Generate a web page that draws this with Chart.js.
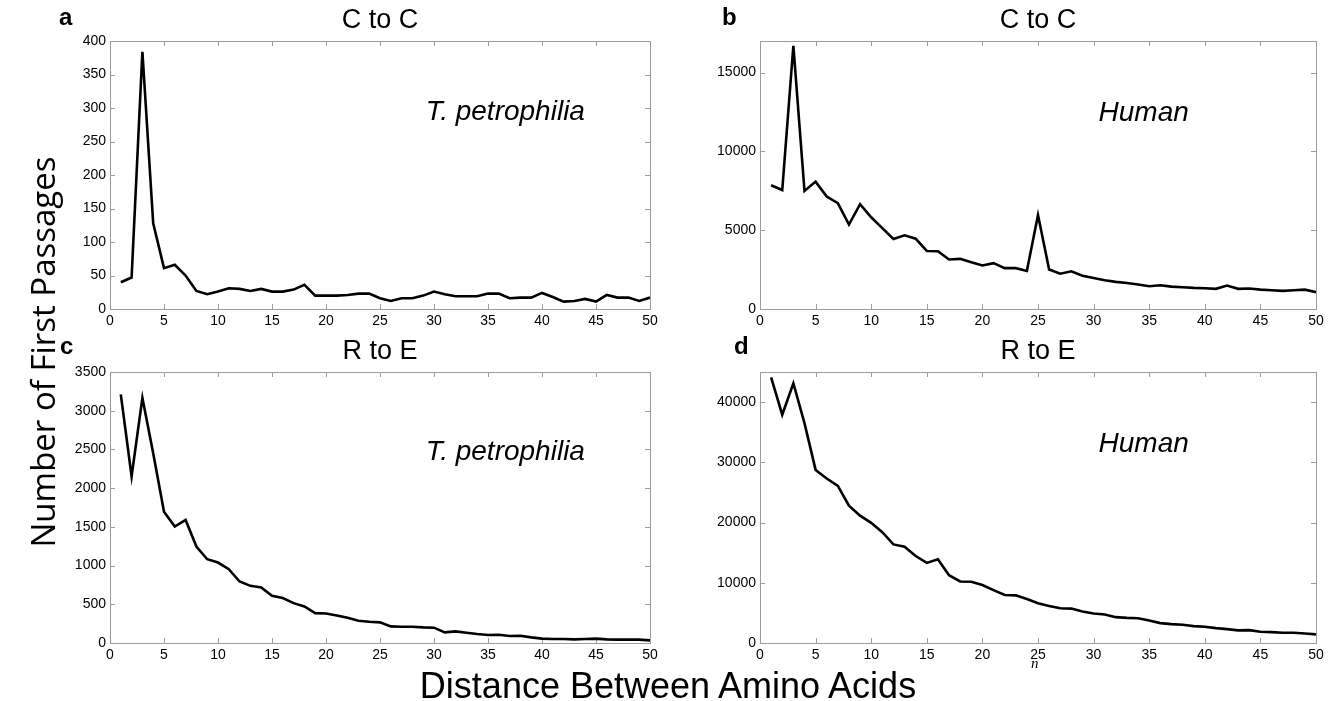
<!DOCTYPE html>
<html>
<head>
<meta charset="utf-8">
<script src="https://cdn.jsdelivr.net/npm/chart.js@4.4.1/dist/chart.umd.min.js"></script>
<style>
  body{margin:0;background:#fff;width:1334px;height:701px;overflow:hidden;position:relative;font-family:"Liberation Sans",Arial,sans-serif;color:#000}
  .panel{position:absolute}
  .letra{position:absolute;font-weight:bold;font-size:24px;line-height:1}
  #ejeY{position:absolute;left:42px;top:352px;transform:translate(-50%,-50%) rotate(-90deg);font-family:"Open Sans",sans-serif;font-size:33px;white-space:nowrap}
  #ejeX{position:absolute;left:668px;top:686px;transform:translate(-50%,-50%);font-size:36px;white-space:nowrap}
  #ene{position:absolute;left:1031px;top:655px;font-family:"Liberation Serif",serif;font-style:italic;font-size:15px}
</style>
</head>
<body>
<div class="panel" id="pA"><canvas id="gA"></canvas></div>
<div class="panel" id="pB"><canvas id="gB"></canvas></div>
<div class="panel" id="pC"><canvas id="gC"></canvas></div>
<div class="panel" id="pD"><canvas id="gD"></canvas></div>
<div class="letra" style="left:59px;top:5px">a</div>
<div class="letra" style="left:722px;top:5px">b</div>
<div class="letra" style="left:60px;top:334px">c</div>
<div class="letra" style="left:734px;top:334px">d</div>
<div id="ejeY">Number of First Passages</div>
<div id="ejeX">Distance Between Amino Acids</div>
<div id="ene">n</div>
<script>
// Datos: distancia entre aminoácidos (eje x) y número de primeros pasos
const distancias=[1,2,3,4,5,6,7,8,9,10,11,12,13,14,15,16,17,18,19,20,21,22,23,24,25,
  26,27,28,29,30,31,32,33,34,35,36,37,38,39,40,41,42,43,44,45,46,47,48,49,50];
const ticksX=[0,5,10,15,20,25,30,35,40,45,50];

// a: C a C, T. petrophilia
const ccPetro=[40,47,384,128,61,66,50,27,22,26,31,30,27,30,26,26,29,36,20,20,
  20,21,23,23,16,12,16,16,20,26,22,19,19,19,23,23,16,17,17,24,
  18,11,12,15,11,21,17,17,12,17];
// b: C a C, humano
const ccHumano=[7850,7550,16700,7490,8080,7130,6720,5360,6650,5820,5130,4440,4670,4460,3680,3660,3140,3180,2970,2760,
  2910,2590,2590,2410,5960,2510,2240,2390,2110,1970,1820,1720,1650,1550,1440,1510,1420,1380,1340,1320,
  1280,1490,1280,1300,1230,1190,1150,1190,1230,1070];
// c: R a E, T. petrophilia
const rePetro=[3210,2150,3165,2450,1696,1503,1589,1245,1082,1039,953,794,738,717,610,580,515,472,386,382,
  356,326,288,275,266,215,210,210,202,198,137,150,133,116,103,107,90,94,73,56,
  52,52,47,52,56,47,43,43,43,34];
// d: R a E, humano
const reHumano=[44120,37910,43130,36500,28740,27310,26100,22800,21150,19950,18400,16370,15990,14450,13300,13900,11260,10220,10160,9620,
  8790,7970,7910,7310,6590,6150,5770,5710,5220,4890,4730,4290,4180,4120,3740,3300,3130,3020,2800,2690,
  2470,2310,2090,2140,1870,1810,1700,1700,1590,1430];

const ticksYA=[0,50,100,150,200,250,300,350,400];
const ticksYB=[0,5000,10000,15000];
const ticksYC=[0,500,1000,1500,2000,2500,3000,3500];
const ticksYD=[0,10000,20000,30000,40000];

const gris="#9c9c9c";
const margenIzq=70, margenDer=70, altoTitulo=42, altoEjeX=28;

// Caja estilo MATLAB con marcas hacia dentro
const cajaPlugin={
  id:"caja",
  beforeDatasetsDraw(chart){
    const {ctx,chartArea:a,scales:{x,y}}=chart;
    ctx.save();
    ctx.strokeStyle=gris;
    ctx.lineWidth=1;
    ctx.strokeRect(a.left+0.5,a.top+0.5,a.right-a.left,a.bottom-a.top);
    ctx.beginPath();
    x.ticks.forEach(t=>{
      const px=Math.round(x.getPixelForValue(t.value))+0.5;
      ctx.moveTo(px,a.bottom);ctx.lineTo(px,a.bottom-5);
      ctx.moveTo(px,a.top);ctx.lineTo(px,a.top+5);
    });
    y.ticks.forEach(t=>{
      const py=Math.round(y.getPixelForValue(t.value))+0.5;
      ctx.moveTo(a.left,py);ctx.lineTo(a.left+5,py);
      ctx.moveTo(a.right,py);ctx.lineTo(a.right-5,py);
    });
    ctx.stroke();
    ctx.restore();
  },
  afterDraw(chart){
    const n=chart.options.plugins.nota;
    if(!n) return;
    const {ctx,scales:{x,y}}=chart;
    ctx.save();
    ctx.font='italic 28px "Liberation Sans", Arial, sans-serif';
    ctx.fillStyle="#000";
    ctx.textAlign="center";
    ctx.textBaseline="middle";
    ctx.fillText(n.texto,x.getPixelForValue(n.x),y.getPixelForValue(n.y));
    ctx.restore();
  }
};

function crearPanel(idDiv,idCanvas,caja,valores,ticksY,yMax,titulo,nota){
  const div=document.getElementById(idDiv);
  div.style.left=(caja[0]-margenIzq)+"px";
  div.style.top=(caja[1]-altoTitulo)+"px";
  div.style.width=(caja[2]-caja[0]+margenIzq+margenDer)+"px";
  div.style.height=(caja[3]-caja[1]+altoTitulo+altoEjeX)+"px";
  const fuente={family:'"Liberation Sans", Arial, sans-serif',size:14};
  return new Chart(document.getElementById(idCanvas),{
    type:"line",
    data:{datasets:[{
      data:distancias.map((d,i)=>({x:d,y:valores[i]})),
      borderColor:"#000",borderWidth:2.6,pointRadius:0,tension:0,fill:false
    }]},
    options:{
      responsive:true,maintainAspectRatio:false,animation:false,
      layout:{padding:{left:0,right:margenDer,top:0,bottom:0}},
      plugins:{
        legend:{display:false},tooltip:{enabled:false},
        title:{display:true,fullSize:false,text:titulo,color:"#000",
          font:{family:'"Liberation Sans", Arial, sans-serif',size:27,weight:"normal",lineHeight:1.2},
          padding:{top:5,bottom:altoTitulo-5-32.4}},
        nota:nota
      },
      scales:{
        x:{type:"linear",min:0,max:50,
          afterBuildTicks:s=>{s.ticks=ticksX.map(v=>({value:v}));},
          afterFit:s=>{s.height=altoEjeX;},
          grid:{display:false,drawTicks:false},border:{display:false},
          ticks:{color:"#000",font:fuente,padding:4,maxRotation:0,autoSkip:false,callback:v=>String(v)}},
        y:{type:"linear",min:0,max:yMax,
          afterBuildTicks:s=>{s.ticks=ticksY.map(v=>({value:v}));},
          afterFit:s=>{s.width=margenIzq;},
          grid:{display:false,drawTicks:false},border:{display:false},
          ticks:{color:"#000",font:fuente,padding:4,autoSkip:false,callback:v=>String(v)}}
      }
    },
    plugins:[cajaPlugin]
  });
}

crearPanel("pA","gA",[110,41,650,309],ccPetro,ticksYA,400,"C to C",{texto:"T. petrophilia",x:36.6,y:294});
crearPanel("pB","gB",[760,41,1316,309],ccHumano,ticksYB,17000,"C to C",{texto:"Human",x:34.5,y:12400});
crearPanel("pC","gC",[110,372,650,643],rePetro,ticksYC,3500,"R to E",{texto:"T. petrophilia",x:36.6,y:2470});
crearPanel("pD","gD",[760,372,1316,643],reHumano,ticksYD,45000,"R to E",{texto:"Human",x:34.5,y:33000});
</script>
</body>
</html>
